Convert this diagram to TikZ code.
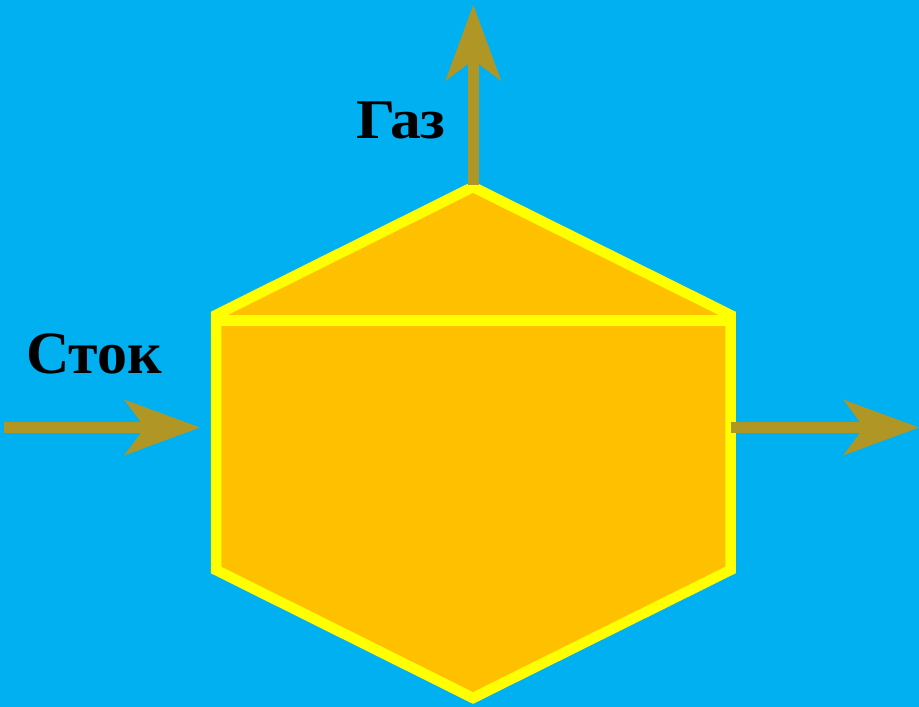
\documentclass[tikz,border=0pt]{standalone}
\usepackage{fontspec}
\setmainfont{Liberation Serif}
\usetikzlibrary{arrows.meta}
\definecolor{bg}{RGB}{0,176,240}
\definecolor{tank}{RGB}{255,192,0}
\definecolor{rim}{RGB}{255,255,0}
\definecolor{flow}{RGB}{176,150,36}
\tikzset{
  flowarrow/.style={draw=flow, line width=11.5pt,
    -{Stealth[length=76pt,width=56pt,inset=21pt,line width=0pt,fill=flow]}},
  tankline/.style={draw=rim, line width=10.5pt, line join=miter},
  lbl/.style={anchor=base west, inner sep=0pt}
}
\begin{document}
\begin{tikzpicture}[x=1pt,y=-1pt]
\useasboundingbox (0,0) rectangle (919,707);
\fill[bg] (0,0) rectangle (919,707);
% tank corners
\coordinate (top) at (473,187);
\coordinate (ul) at (216,315);
\coordinate (ll) at (216,570);
\coordinate (bot) at (473,698);
\coordinate (lr) at (730.5,570);
\coordinate (ur) at (730.5,315);
\coordinate (ml) at (216,320.5);
\coordinate (mr) at (730.5,320.5);
\fill[tank] (top) -- (ul) -- (ll) -- (bot) -- (lr) -- (ur) -- cycle;
\draw[tankline] (ml) -- (mr);
\draw[tankline] (top) -- (ul) -- (ll) -- (bot) -- (lr) -- (ur) -- cycle;
% flows
\coordinate (inS) at (4,427.5);
\coordinate (inE) at (200,427.5);
\coordinate (outS) at (731,427.5);
\coordinate (outE) at (919,427.5);
\coordinate (gasS) at (473.3,185);
\coordinate (gasE) at (473.3,5);
\draw[flowarrow] (inS) -- (inE);
\draw[flowarrow] (outS) -- (outE);
\draw[flowarrow] (gasS) -- (gasE);
% labels
\node[lbl, xscale=1.1, font=\bfseries\fontsize{56}{56}\selectfont] (gas) at (356,138.5) {Газ};
\node[lbl, font=\bfseries\fontsize{60}{60}\selectfont] (stok) at (26,373.5) {Сток};
\end{tikzpicture}
\end{document}
